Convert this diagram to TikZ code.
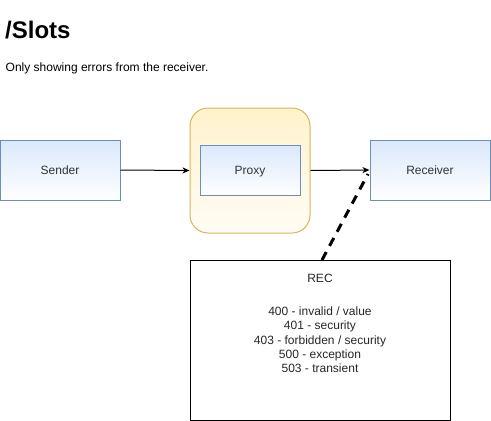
\documentclass[tikz,border=0pt]{standalone}
\usepackage{fontspec}
\setmainfont{Liberation Sans}
\usetikzlibrary{arrows.meta}

\definecolor{blueline}{HTML}{6C8EBF}
\definecolor{bluefill}{HTML}{DAE8FC}
\definecolor{yellowline}{HTML}{D6B656}
\definecolor{yellowfill}{HTML}{FFF2CC}
\definecolor{textgrey}{HTML}{333333}

\tikzset{
  actor/.style={draw=blueline, top color=bluefill, bottom color=white,
    minimum width=120pt, minimum height=60pt, font=\fontsize{12}{14.3}\selectfont,
    text=textgrey, line width=1pt, text height=8.6pt, text depth=0pt},
  container/.style={draw=yellowline, top color=yellowfill, bottom color=yellowfill!20,
    rounded corners=18pt, minimum width=120pt, minimum height=125pt, line width=1pt},
  notebox/.style={draw, minimum width=260pt, minimum height=160pt, line width=1pt},
  flow/.style={-{Stealth[length=7pt,width=6pt,inset=2pt]}, line width=1pt},
}

\begin{document}
\begin{tikzpicture}[x=1pt,y=-1pt]
\useasboundingbox (0,0) rectangle (491,421);

% title
\node[anchor=base west, inner sep=0, font=\bfseries\fontsize{24}{28}\selectfont] (title) at (5,38) {/Slots};
\node[anchor=base west, inner sep=0, font=\fontsize{12}{14}\selectfont] (subtitle) at (5.5,71) {Only showing errors from the receiver.};

% boxes
\node[actor] (sender) at (60,170) {Sender};
\node[container] (proxybox) at (250,170.5) {};
\node[actor, minimum width=100pt, minimum height=50pt] (proxy) at (250,170) {Proxy};
\node[actor] (receiver) at (430,170) {Receiver};

% error note
\node[notebox] (rec) at (320,340) {};
\node[align=center, inner sep=0, font=\fontsize{12}{14.3}\selectfont, text=black!85, anchor=north] (codes) at (320,273.7)
  {REC\\[19pt]400 - invalid / value\\401 - security\\403 - forbidden / security\\500 - exception\\503 - transient};

% connectors
\draw[flow] (sender.east) -- (proxybox.west);
\draw[flow] (proxybox.east) -- (receiver.west);
\coordinate (notetop) at (322,260);
\coordinate (notetip) at (368,174);
\draw[line width=3pt, dash pattern=on 9pt off 7pt] (notetop) -- (notetip);

\end{tikzpicture}
\end{document}
